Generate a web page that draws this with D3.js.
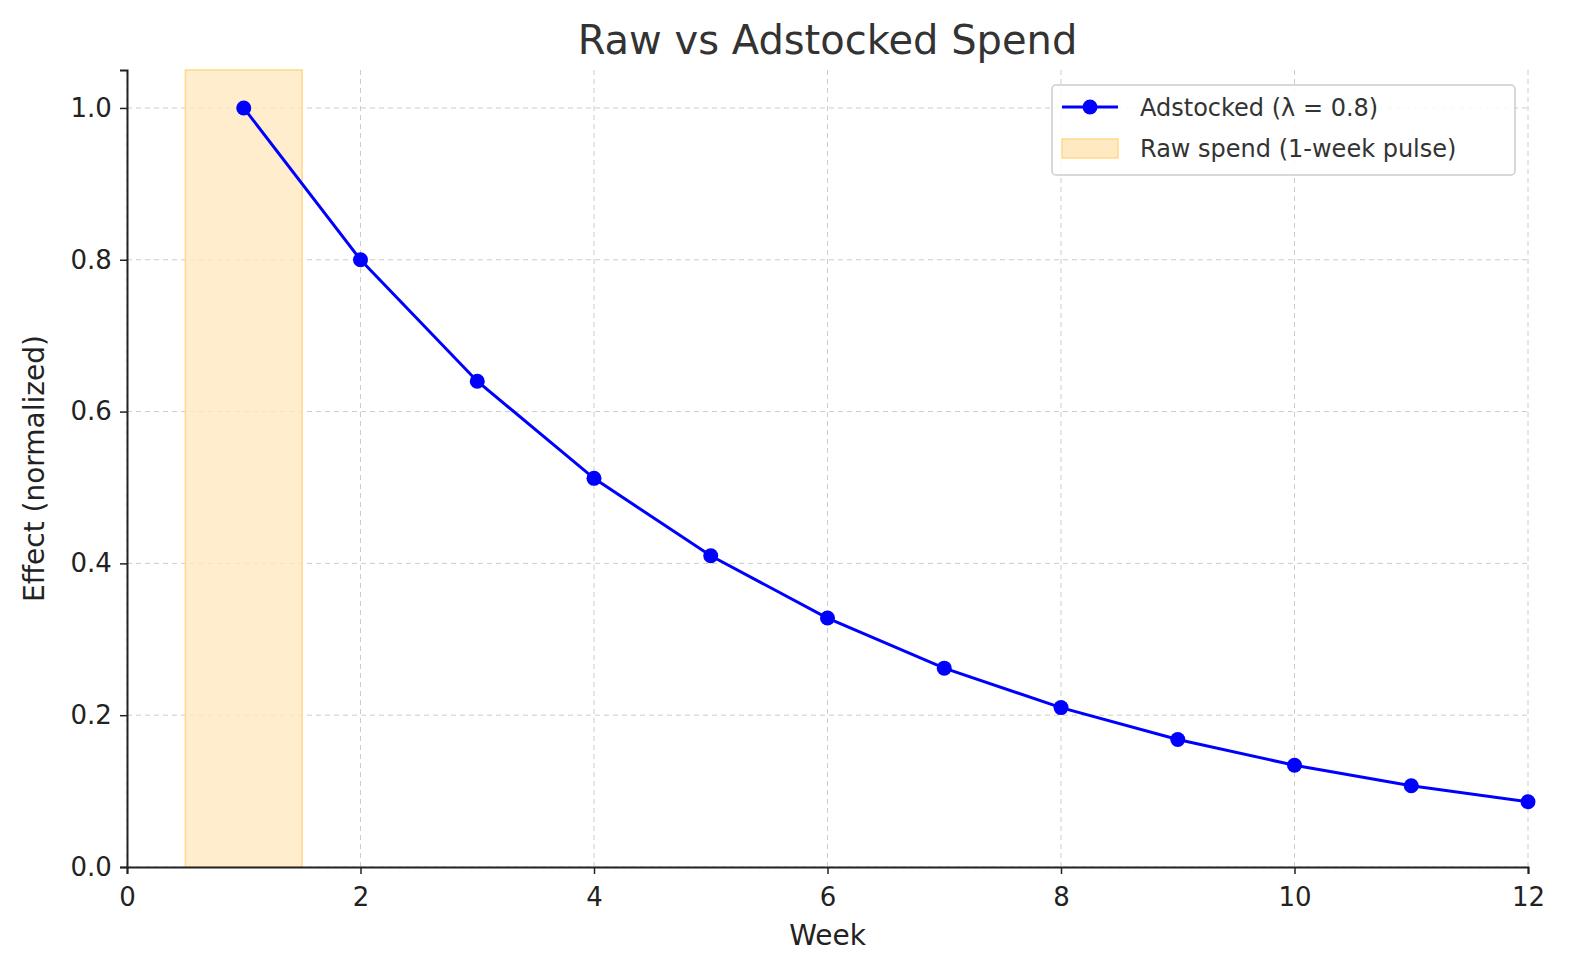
<!DOCTYPE html>
<html><head><meta charset="utf-8">
<script src="https://cdn.jsdelivr.net/npm/d3@7"></script>
<style>body{margin:0;background:#fff}text{font-family:"DejaVu Sans",sans-serif;fill:#222}</style>
</head><body><svg id="c" width="1579" height="980"></svg>
<script>
const weeks=[1,2,3,4,5,6,7,8,9,10,11,12];
const adstocked=[1.0,0.8,0.64,0.512,0.41,0.328,0.262,0.21,0.168,0.134,0.107,0.086];
const pulse=[[0.5,1.5]];
const xTicks=[0,2,4,6,8,10,12];
const yTicks=[0,0.2,0.4,0.6,0.8,1.0];
const svg=d3.select("#c");
const L=127,R=1528,T=70,B=867;
const x=d3.scaleLinear().domain([0,12]).range([L,R]);
const y=d3.scaleLinear().domain([0,1.05]).range([B,T]);
// grid
svg.append("g").selectAll("line").data(xTicks).join("line").attr("x1",d=>x(d)).attr("x2",d=>x(d)).attr("y1",T).attr("y2",B).attr("stroke","#ccc").attr("stroke-dasharray","5,4");
svg.append("g").selectAll("line").data(yTicks).join("line").attr("x1",L).attr("x2",R).attr("y1",d=>y(d)).attr("y2",d=>y(d)).attr("stroke","#ccc").attr("stroke-dasharray","5,4");
// pulse
svg.selectAll("rect.p").data(pulse).join("rect").attr("x",d=>x(d[0])).attr("width",d=>x(d[1])-x(d[0])).attr("y",y(1.05)).attr("height",y(0)-y(1.05)).attr("fill","#ffe9c2").attr("fill-opacity",0.8).attr("stroke","#ffd98a").attr("stroke-width",1.5);
// line
const data=weeks.map((w,i)=>[w,adstocked[i]]);
svg.append("path").datum(data).attr("d",d3.line().x(d=>x(d[0])).y(d=>y(d[1]))).attr("fill","none").attr("stroke","#0000ff").attr("stroke-width",3);
svg.append("g").selectAll("circle").data(data).join("circle").attr("cx",d=>x(d[0])).attr("cy",d=>y(d[1])).attr("r",7.5).attr("fill","#0000ff");
// axes
const xa=svg.append("g").attr("transform",`translate(0,${B})`).call(d3.axisBottom(x).tickValues(xTicks).tickSize(7).tickFormat(d3.format("d")));
const ya=svg.append("g").attr("transform",`translate(${L},0)`).call(d3.axisLeft(y).tickValues(yTicks).tickSize(7).tickFormat(d3.format(".1f")));
[xa,ya].forEach(a=>{a.selectAll("text").attr("font-size",26).style("fill","#222");a.select(".domain").attr("stroke","#222").attr("stroke-width",2);a.selectAll(".tick line").attr("stroke","#222").attr("stroke-width",1.5);});
xa.selectAll("text").attr("dy","1.1em");
ya.selectAll("text").attr("dx","-0.2em");
// labels
svg.append("text").attr("x",(L+R)/2).attr("y",54).attr("text-anchor","middle").attr("font-size",40).style("fill","#333").text("Raw vs Adstocked Spend");
svg.append("text").attr("x",(L+R)/2).attr("y",945).attr("text-anchor","middle").attr("font-size",28).text("Week");
svg.append("text").attr("transform",`translate(44,${(T+B)/2}) rotate(-90)`).attr("text-anchor","middle").attr("font-size",28).text("Effect (normalized)");
// legend
const lg=svg.append("g");
lg.append("rect").attr("x",1052).attr("y",85).attr("width",463).attr("height",90).attr("rx",4).attr("fill","#fff").attr("fill-opacity",0.85).attr("stroke","#ccc").attr("stroke-width",1.5);
lg.append("line").attr("x1",1062).attr("x2",1118).attr("y1",107).attr("y2",107).attr("stroke","#0000ff").attr("stroke-width",3);
lg.append("circle").attr("cx",1090).attr("cy",107).attr("r",7.5).attr("fill","#0000ff");
lg.append("rect").attr("x",1062).attr("y",139).attr("width",56).attr("height",19).attr("fill","#ffe9c2").attr("stroke","#ffd98a").attr("stroke-width",1.5);
lg.append("text").attr("x",1140).attr("y",116).attr("font-size",24).style("fill","#333").text("Adstocked (λ = 0.8)");
lg.append("text").attr("x",1140).attr("y",157).attr("font-size",24).style("fill","#333").text("Raw spend (1-week pulse)");
</script></body></html>
